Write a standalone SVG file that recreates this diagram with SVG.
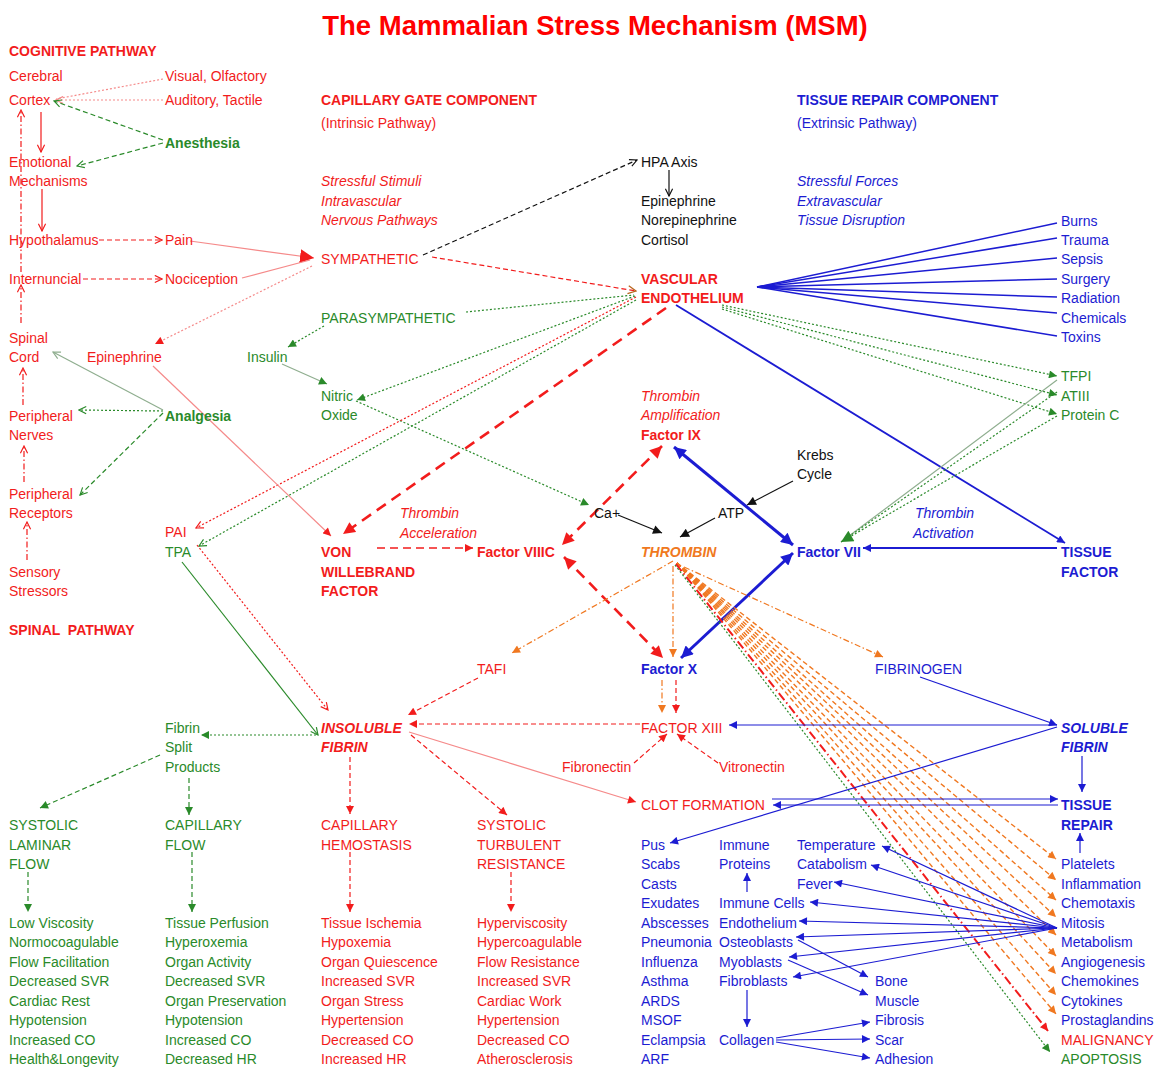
<svg xmlns="http://www.w3.org/2000/svg" width="1156" height="1067" viewBox="0 0 1156 1067">
<style>
text{font-family:"Liberation Sans",Arial,Helvetica,sans-serif;font-size:14px}
.b{font-weight:bold}
.i{font-style:italic}
.r{fill:#f21c1c}
.g{fill:#2a8a2a}
.u{fill:#1c1cd2}
.k{fill:#111}
.o{fill:#f07820}
#connectors path{fill:none;stroke-width:1.2}
.cr{stroke:#f21c1c}
.cp{stroke:#f58a8a}
.cg{stroke:#2a8a2a}
.cgl{stroke:#8fae8f}
.cu{stroke:#1c1cd2}
.ck{stroke:#111}
.co{stroke:#f07820}
.dot{stroke-dasharray:2,2}
.dsh{stroke-dasharray:5,3}
.dd{stroke-dasharray:6,2.5,1.5,2.5}
#connectors .big{stroke-width:2.6;stroke-dasharray:11,7}
#connectors .thick{stroke-width:3}
#connectors .w2{stroke-width:1.8}
#connectors .w16{stroke-width:1.5}
#connectors .fan{stroke-width:1.4;stroke-dasharray:5,3}
#connectors .mal{stroke-width:2;stroke-dasharray:9,3,1.5,3}
</style>
<defs>
<marker id="fr" viewBox="0 0 10 10" refX="10" refY="5" markerWidth="9" markerHeight="8" markerUnits="userSpaceOnUse" orient="auto-start-reverse"><path d="M0,0 L10,5 L0,10 z" fill="#f21c1c"/></marker>
<marker id="frB" viewBox="0 0 10 10" refX="10" refY="5" markerWidth="13" markerHeight="12" markerUnits="userSpaceOnUse" orient="auto-start-reverse"><path d="M0,0 L10,5 L0,10 z" fill="#f21c1c"/></marker>
<marker id="frL" viewBox="0 0 10 10" refX="10" refY="5" markerWidth="14" markerHeight="15" markerUnits="userSpaceOnUse" orient="auto"><path d="M0,0 L10,5 L0,10 z" fill="#f21c1c"/></marker>
<marker id="fg" viewBox="0 0 10 10" refX="10" refY="5" markerWidth="9" markerHeight="8" markerUnits="userSpaceOnUse" orient="auto"><path d="M0,0 L10,5 L0,10 z" fill="#2a8a2a"/></marker>
<marker id="fgB" viewBox="0 0 10 10" refX="10" refY="5" markerWidth="13" markerHeight="12" markerUnits="userSpaceOnUse" orient="auto"><path d="M0,0 L10,5 L0,10 z" fill="#2a8a2a"/></marker>
<marker id="fu" viewBox="0 0 10 10" refX="10" refY="5" markerWidth="10" markerHeight="8" markerUnits="userSpaceOnUse" orient="auto-start-reverse"><path d="M0,0 L10,5 L0,10 z" fill="#1c1cd2"/></marker>
<marker id="fuB" viewBox="0 0 10 10" refX="10" refY="5" markerWidth="13" markerHeight="12" markerUnits="userSpaceOnUse" orient="auto-start-reverse"><path d="M0,0 L10,5 L0,10 z" fill="#1c1cd2"/></marker>
<marker id="fk" viewBox="0 0 10 10" refX="10" refY="5" markerWidth="10" markerHeight="9" markerUnits="userSpaceOnUse" orient="auto"><path d="M0,0 L10,5 L0,10 z" fill="#111"/></marker>
<marker id="fo" viewBox="0 0 10 10" refX="10" refY="5" markerWidth="9" markerHeight="8" markerUnits="userSpaceOnUse" orient="auto"><path d="M0,0 L10,5 L0,10 z" fill="#f07820"/></marker>
<marker id="or" viewBox="0 0 10 10" refX="9" refY="5" markerWidth="9" markerHeight="9" markerUnits="userSpaceOnUse" orient="auto"><path d="M1,1 L9,5 L1,9" fill="none" stroke="#f21c1c" stroke-width="1.3"/></marker>
<marker id="op" viewBox="0 0 10 10" refX="9" refY="5" markerWidth="9" markerHeight="9" markerUnits="userSpaceOnUse" orient="auto"><path d="M1,1 L9,5 L1,9" fill="none" stroke="#f58a8a" stroke-width="1.3"/></marker>
<marker id="og" viewBox="0 0 10 10" refX="9" refY="5" markerWidth="9" markerHeight="9" markerUnits="userSpaceOnUse" orient="auto"><path d="M1,1 L9,5 L1,9" fill="none" stroke="#2a8a2a" stroke-width="1.3"/></marker>
<marker id="ogl" viewBox="0 0 10 10" refX="9" refY="5" markerWidth="9" markerHeight="9" markerUnits="userSpaceOnUse" orient="auto"><path d="M1,1 L9,5 L1,9" fill="none" stroke="#8fae8f" stroke-width="1.3"/></marker>
<marker id="ok" viewBox="0 0 10 10" refX="9" refY="5" markerWidth="9" markerHeight="9" markerUnits="userSpaceOnUse" orient="auto"><path d="M1,1 L9,5 L1,9" fill="none" stroke="#111" stroke-width="1.3"/></marker>
<marker id="oo" viewBox="0 0 10 10" refX="9" refY="5" markerWidth="10" markerHeight="10" markerUnits="userSpaceOnUse" orient="auto"><path d="M1,1 L9,5 L1,9" fill="none" stroke="#b8641c" stroke-width="1.3"/></marker>
</defs>
<rect width="1156" height="1067" fill="#fff"/>
<text id="title" x="595" y="35" text-anchor="middle" class="b" style="font-size:27.5px;fill:#ff0000">The Mammalian Stress Mechanism (MSM)</text>

<g id="connectors">
<!-- cognitive pathway -->
<path class="cp dot" d="M163,79 L56,99"/>
<path class="cp dot" d="M163,100 L56,100" marker-end="url(#op)"/>
<path class="cg dsh" d="M163,140 L54,101" marker-end="url(#og)"/>
<path class="cg dsh" d="M163,143 L77,166" marker-end="url(#og)"/>
<path class="cr" d="M41,112 L41,152" marker-end="url(#or)"/>
<path class="cr" d="M42,189 L42,231" marker-end="url(#or)"/>
<path class="cr dsh" d="M99,240 L162,240" marker-end="url(#or)"/>
<path class="cr dsh" d="M83,279 L162,279" marker-end="url(#or)"/>
<path class="cr dd" d="M21,272 L21,110" marker-end="url(#or)"/>
<path class="cr dd" d="M21,323 L21,285" marker-end="url(#or)"/>
<path class="cr dd" d="M23,405 L23,368" marker-end="url(#or)"/>
<path class="cr dd" d="M24,482 L24,446" marker-end="url(#or)"/>
<path class="cr dd" d="M27,560 L27,522" marker-end="url(#or)"/>
<path class="cgl" d="M163,410 L53,352" marker-end="url(#ogl)"/>
<path class="cg dot" d="M163,411 L79,410" marker-end="url(#og)"/>
<path class="cg dsh" d="M163,413 L80,495" marker-end="url(#og)"/>
<!-- sympathetic -->
<path class="cp" d="M190,241 L314,258" marker-end="url(#frL)"/>
<path class="cp" d="M242,278 L310,260"/>
<path class="cp dot" d="M312,266 L155,344" marker-end="url(#fr)"/>
<path class="ck dsh" d="M423,255 L637,160" marker-end="url(#ok)"/>
<path class="ck" d="M669,170 L669,196" marker-end="url(#ok)"/>
<path class="cr dsh" d="M432,257 L636,291" marker-end="url(#oo)"/>
<path class="cg dot" d="M466,312 L634,295"/>
<path class="cg dot" d="M324,326 L288,347" marker-end="url(#fg)"/>
<path class="cgl" d="M282,364 L327,384" marker-end="url(#fg)"/>
<path class="cg dot" d="M635,296 L357,400" marker-end="url(#fg)"/>
<path class="cg dot" d="M356,401 L589,505" marker-end="url(#fg)"/>
<path class="cr dot" d="M636,297 L196,528" marker-end="url(#or)"/>
<path class="cg dot" d="M636,300 L199,546" marker-end="url(#og)"/>
<path class="cr big" d="M666,308 L343,534" marker-end="url(#frB)"/>
<path class="cp" d="M153,366 L331,536" marker-end="url(#fr)"/>
<path class="cr w16" d="M377,548 L473,548" style="stroke-dasharray:8,5" marker-end="url(#fr)"/>
<path class="cr big" d="M662,446 L562,545" marker-start="url(#frB)" marker-end="url(#frB)"/>
<path class="cr big" d="M564,557 L663,658" marker-start="url(#frB)" marker-end="url(#frB)"/>
<path class="cu thick" d="M674,447 L793,545" marker-start="url(#fuB)" marker-end="url(#fuB)"/>
<path class="cu thick" d="M793,553 L681,658" marker-start="url(#fuB)" marker-end="url(#fuB)"/>
<path class="ck" d="M793,481 L747,505" marker-end="url(#fk)"/>
<path class="ck" d="M618,515 L662,533" marker-end="url(#fk)"/>
<path class="ck" d="M715,518 L680,537" marker-end="url(#fk)"/>
<!-- tissue repair component -->
<path class="cu w2" d="M676,305 L1065,543" marker-end="url(#fu)"/>
<path class="cu w2" d="M1057,548 L863,548" marker-end="url(#fu)"/>
<path class="cu w16" d="M757,287 L1057,223"/>
<path class="cu w16" d="M757,287 L1057,238"/>
<path class="cu w16" d="M757,287 L1057,258"/>
<path class="cu w16" d="M757,287 L1057,279"/>
<path class="cu w16" d="M757,287 L1057,297"/>
<path class="cu w16" d="M757,287 L1057,313"/>
<path class="cu w16" d="M757,287 L1057,336"/>
<path class="cg dot" d="M722,305 L1057,376" marker-end="url(#fg)"/>
<path class="cg dot" d="M722,307 L1057,395" marker-end="url(#fg)"/>
<path class="cg dot" d="M722,309 L1057,414" marker-end="url(#fg)"/>
<path class="cgl" d="M1057,380 L841,542"/>
<path class="cg dot" d="M1057,392 L841,542"/>
<path class="cg dot" d="M1057,416 L841,542" marker-end="url(#fgB)"/>
<!-- thrombin -->
<path class="co dd" d="M673,561 L512,653" marker-end="url(#fo)"/>
<path class="co dd" d="M673,566 L673,657" marker-end="url(#fo)"/>
<path class="co dd" d="M684,567 L883,657" marker-end="url(#fo)"/>
<path class="co fan" d="M677,563 L1056,859" marker-end="url(#fo)"/>
<path class="co fan" d="M677,563 L1056,880" marker-end="url(#fo)"/>
<path class="co fan" d="M677,563 L1056,900" marker-end="url(#fo)"/>
<path class="co fan" d="M677,563 L1056,917" marker-end="url(#fo)"/>
<path class="co fan" d="M677,563 L1056,935" marker-end="url(#fo)"/>
<path class="co fan" d="M677,563 L1056,956" marker-end="url(#fo)"/>
<path class="co fan" d="M677,563 L1056,974" marker-end="url(#fo)"/>
<path class="co fan" d="M677,563 L1056,995" marker-end="url(#fo)"/>
<path class="co fan" d="M677,563 L1056,1014" marker-end="url(#fo)"/>
<path class="cr mal" d="M676,564 L1048,1031" marker-end="url(#fr)"/>
<path class="cg dot" d="M675,565 L1050,1052" marker-end="url(#fg)"/>
<path class="co dd" d="M662,680 L662,713" marker-end="url(#fo)"/>
<path class="cr dsh" d="M676,680 L676,713" marker-end="url(#fr)"/>
<path class="cr dsh" d="M634,763 L667,734" marker-end="url(#fr)"/>
<path class="cr dsh" d="M718,763 L677,734" marker-end="url(#fr)"/>
<path class="cr dsh" d="M640,724 L409,724" marker-end="url(#fr)"/>
<path class="cr dsh" d="M478,678 L408,715" marker-end="url(#fr)"/>
<!-- fibrin / repair -->
<path class="cu" d="M1057,725 L729,725" marker-end="url(#fu)"/>
<path class="cu" d="M920,677 L1057,725" marker-end="url(#fu)"/>
<path class="cu" d="M1057,727 L670,843" marker-end="url(#fu)"/>
<path class="cu" d="M772,799 L1058,799" marker-end="url(#fu)"/>
<path class="cu" d="M1058,805 L773,805" marker-end="url(#fu)"/>
<path class="cu" d="M1082,756 L1082,792" marker-end="url(#fu)"/>
<path class="cu" d="M1080,853 L1080,833" marker-end="url(#fu)"/>
<path class="cu" d="M1057,928 L882,846" marker-end="url(#fu)"/>
<path class="cu" d="M1057,928 L871,865" marker-end="url(#fu)"/>
<path class="cu" d="M1057,928 L834,882" marker-end="url(#fu)"/>
<path class="cu" d="M1057,928 L810,902" marker-end="url(#fu)"/>
<path class="cu" d="M1057,928 L799,921" marker-end="url(#fu)"/>
<path class="cu" d="M1057,928 L796,937" marker-end="url(#fu)"/>
<path class="cu" d="M1057,928 L789,957" marker-end="url(#fu)"/>
<path class="cu" d="M1057,928 L793,977" marker-end="url(#fu)"/>
<path class="cu" d="M798,940 L868,977" marker-end="url(#fu)"/>
<path class="cu" d="M788,960 L868,995" marker-end="url(#fu)"/>
<path class="cu" d="M776,1038 L870,1022" marker-end="url(#fu)"/>
<path class="cu" d="M776,1040 L870,1039" marker-end="url(#fu)"/>
<path class="cu" d="M776,1042 L870,1058" marker-end="url(#fu)"/>
<path class="cu" d="M747,892 L747,873" marker-end="url(#fu)"/>
<path class="cu" d="M747,990 L747,1027" marker-end="url(#fu)"/>
<!-- lower left -->
<path class="cr dot" d="M197,545 L328,710" marker-end="url(#or)"/>
<path class="cg" d="M182,562 L318,735" marker-end="url(#og)"/>
<path class="cg dot" d="M316,735 L201,735" marker-end="url(#fg)"/>
<path class="cg dsh" d="M160,755 L40,808" marker-end="url(#fg)"/>
<path class="cg dsh" d="M189,778 L189,815" marker-end="url(#fg)"/>
<path class="cr dsh" d="M350,757 L350,814" marker-end="url(#fr)"/>
<path class="cr dsh" d="M411,735 L507,815" marker-end="url(#fr)"/>
<path class="cp" d="M409,732 L636,802" marker-end="url(#fr)"/>
<path class="cg dsh" d="M28,872 L28,912" marker-end="url(#fg)"/>
<path class="cg dsh" d="M192,852 L192,912" marker-end="url(#fg)"/>
<path class="cr dsh" d="M350,852 L350,912" marker-end="url(#fr)"/>
<path class="cr dsh" d="M511,872 L511,912" marker-end="url(#fr)"/>
</g>

<!-- LEFT: cognitive / spinal -->
<g id="cognitive-pathway"><text x="9" y="56" class="b r">COGNITIVE PATHWAY</text></g>
<g id="cerebral-cortex"><text x="9" y="81" class="r">Cerebral</text><text x="9" y="105" class="r">Cortex</text></g>
<g id="visual"><text x="165" y="81" class="r">Visual, Olfactory</text></g>
<g id="auditory"><text x="165" y="105" class="r">Auditory, Tactile</text></g>
<g id="anesthesia"><text x="165" y="148" class="b g">Anesthesia</text></g>
<g id="emotional"><text x="9" y="167" class="r">Emotional</text><text x="9" y="186" class="r">Mechanisms</text></g>
<g id="hypothalamus"><text x="9" y="245" class="r">Hypothalamus</text></g>
<g id="pain"><text x="165" y="245" class="r">Pain</text></g>
<g id="internuncial"><text x="9" y="284" class="r">Internuncial</text></g>
<g id="nociception"><text x="165" y="284" class="r">Nociception</text></g>
<g id="spinal-cord"><text x="9" y="343" class="r">Spinal</text><text x="9" y="362" class="r">Cord</text></g>
<g id="epinephrine-l"><text x="87" y="362" class="r">Epinephrine</text></g>
<g id="peripheral-nerves"><text x="9" y="421" class="r">Peripheral</text><text x="9" y="440" class="r">Nerves</text></g>
<g id="analgesia"><text x="165" y="421" class="b g">Analgesia</text></g>
<g id="peripheral-receptors"><text x="9" y="499" class="r">Peripheral</text><text x="9" y="518" class="r">Receptors</text></g>
<g id="sensory"><text x="9" y="577" class="r">Sensory</text><text x="9" y="596" class="r">Stressors</text></g>
<g id="spinal-pathway"><text x="9" y="635" class="b r" xml:space="preserve">SPINAL  PATHWAY</text></g>

<!-- MIDDLE -->
<g id="capillary-gate"><text x="321" y="105" class="b r">CAPILLARY GATE COMPONENT</text><text x="321" y="128" class="r">(Intrinsic Pathway)</text></g>
<g id="stressful-stimuli"><text x="321" y="186" class="i r">Stressful Stimuli</text><text x="321" y="206" class="i r">Intravascular</text><text x="321" y="225" class="i r">Nervous Pathways</text></g>
<g id="sympathetic"><text x="321" y="264" class="r">SYMPATHETIC</text></g>
<g id="parasympathetic"><text x="321" y="323" class="g">PARASYMPATHETIC</text></g>
<g id="insulin"><text x="247" y="362" class="g">Insulin</text></g>
<g id="nitric-oxide"><text x="321" y="401" class="g">Nitric</text><text x="321" y="420" class="g">Oxide</text></g>
<g id="pai"><text x="165" y="537" class="r">PAI</text></g>
<g id="tpa"><text x="165" y="557" class="g">TPA</text></g>
<g id="von-willebrand"><text x="321" y="557" class="b r">VON</text><text x="321" y="577" class="b r">WILLEBRAND</text><text x="321" y="596" class="b r">FACTOR</text></g>
<g id="thrombin-acceleration"><text x="400" y="518" class="i r">Thrombin</text><text x="400" y="538" class="i r">Acceleration</text></g>
<g id="factor-viiic"><text x="477" y="557" class="b r">Factor VIIIC</text></g>
<g id="hpa-axis"><text x="641" y="167" class="k">HPA Axis</text></g>
<g id="hormones"><text x="641" y="206" class="k">Epinephrine</text><text x="641" y="225" class="k">Norepinephrine</text><text x="641" y="245" class="k">Cortisol</text></g>
<g id="vascular-endothelium"><text x="641" y="284" class="b r">VASCULAR</text><text x="641" y="303" class="b r">ENDOTHELIUM</text></g>
<g id="factor-ix"><text x="641" y="401" class="i r">Thrombin</text><text x="641" y="420" class="i r">Amplification</text><text x="641" y="440" class="b r">Factor IX</text></g>
<g id="krebs"><text x="797" y="460" class="k">Krebs</text><text x="797" y="479" class="k">Cycle</text></g>
<g id="ca"><text x="594" y="518" class="k">Ca+</text></g>
<g id="atp"><text x="718" y="518" class="k">ATP</text></g>
<g id="thrombin"><text x="641" y="557" class="b i o">THROMBIN</text></g>
<g id="factor-vii"><text x="797" y="557" class="b u">Factor VII</text></g>
<g id="thrombin-activation"><text x="915" y="518" class="i u">Thrombin</text><text x="913" y="538" class="i u">Activation</text></g>
<g id="tissue-factor"><text x="1061" y="557" class="b u">TISSUE</text><text x="1061" y="577" class="b u">FACTOR</text></g>

<!-- RIGHT TOP -->
<g id="tissue-repair-component"><text x="797" y="105" class="b u">TISSUE REPAIR COMPONENT</text><text x="797" y="128" class="u">(Extrinsic Pathway)</text></g>
<g id="stressful-forces"><text x="797" y="186" class="i u">Stressful Forces</text><text x="797" y="206" class="i u">Extravascular</text><text x="797" y="225" class="i u">Tissue Disruption</text></g>
<g id="burns"><text x="1061" y="226" class="u">Burns</text></g>
<g id="trauma"><text x="1061" y="245" class="u">Trauma</text></g>
<g id="sepsis"><text x="1061" y="264" class="u">Sepsis</text></g>
<g id="surgery"><text x="1061" y="284" class="u">Surgery</text></g>
<g id="radiation"><text x="1061" y="303" class="u">Radiation</text></g>
<g id="chemicals"><text x="1061" y="323" class="u">Chemicals</text></g>
<g id="toxins"><text x="1061" y="342" class="u">Toxins</text></g>
<g id="tfpi"><text x="1061" y="381" class="g">TFPI</text></g>
<g id="atiii"><text x="1061" y="401" class="g">ATIII</text></g>
<g id="protein-c"><text x="1061" y="420" class="g">Protein C</text></g>

<!-- CENTER LOWER -->
<g id="tafi"><text x="477" y="674" class="r">TAFI</text></g>
<g id="factor-x"><text x="641" y="674" class="b u">Factor X</text></g>
<g id="fibrinogen"><text x="875" y="674" class="u">FIBRINOGEN</text></g>
<g id="fibrin-split"><text x="165" y="733" class="g">Fibrin</text><text x="165" y="752" class="g">Split</text><text x="165" y="772" class="g">Products</text></g>
<g id="insoluble-fibrin"><text x="321" y="733" class="b i r">INSOLUBLE</text><text x="321" y="752" class="b i r">FIBRIN</text></g>
<g id="factor-xiii"><text x="641" y="733" class="r">FACTOR XIII</text></g>
<g id="soluble-fibrin"><text x="1061" y="733" class="b i u">SOLUBLE</text><text x="1061" y="752" class="b i u">FIBRIN</text></g>
<g id="fibronectin"><text x="562" y="772" class="r">Fibronectin</text></g>
<g id="vitronectin"><text x="719" y="772" class="r">Vitronectin</text></g>
<g id="clot-formation"><text x="641" y="810" class="r">CLOT FORMATION</text></g>
<g id="tissue-repair"><text x="1061" y="810" class="b u">TISSUE</text><text x="1061" y="830" class="b u">REPAIR</text></g>

<!-- BOTTOM COLUMNS -->
<g id="systolic-laminar"><text x="9" y="830" class="g">SYSTOLIC</text><text x="9" y="850" class="g">LAMINAR</text><text x="9" y="869" class="g">FLOW</text></g>
<g id="capillary-flow"><text x="165" y="830" class="g">CAPILLARY</text><text x="165" y="850" class="g">FLOW</text></g>
<g id="capillary-hemostasis"><text x="321" y="830" class="r">CAPILLARY</text><text x="321" y="850" class="r">HEMOSTASIS</text></g>
<g id="systolic-turbulent"><text x="477" y="830" class="r">SYSTOLIC</text><text x="477" y="850" class="r">TURBULENT</text><text x="477" y="869" class="r">RESISTANCE</text></g>
<g id="laminar-effects" class="g">
<text x="9" y="928" class="g">Low Viscosity</text><text x="9" y="947" class="g">Normocoagulable</text><text x="9" y="967" class="g">Flow Facilitation</text><text x="9" y="986" class="g">Decreased SVR</text><text x="9" y="1006" class="g">Cardiac Rest</text><text x="9" y="1025" class="g">Hypotension</text><text x="9" y="1045" class="g">Increased CO</text><text x="9" y="1064" class="g">Health&amp;Longevity</text>
</g>
<g id="capillary-flow-effects">
<text x="165" y="928" class="g">Tissue Perfusion</text><text x="165" y="947" class="g">Hyperoxemia</text><text x="165" y="967" class="g">Organ Activity</text><text x="165" y="986" class="g">Decreased SVR</text><text x="165" y="1006" class="g">Organ Preservation</text><text x="165" y="1025" class="g">Hypotension</text><text x="165" y="1045" class="g">Increased CO</text><text x="165" y="1064" class="g">Decreased HR</text>
</g>
<g id="hemostasis-effects">
<text x="321" y="928" class="r">Tissue Ischemia</text><text x="321" y="947" class="r">Hypoxemia</text><text x="321" y="967" class="r">Organ Quiescence</text><text x="321" y="986" class="r">Increased SVR</text><text x="321" y="1006" class="r">Organ Stress</text><text x="321" y="1025" class="r">Hypertension</text><text x="321" y="1045" class="r">Decreased CO</text><text x="321" y="1064" class="r">Increased HR</text>
</g>
<g id="turbulent-effects">
<text x="477" y="928" class="r">Hyperviscosity</text><text x="477" y="947" class="r">Hypercoagulable</text><text x="477" y="967" class="r">Flow Resistance</text><text x="477" y="986" class="r">Increased SVR</text><text x="477" y="1006" class="r">Cardiac Work</text><text x="477" y="1025" class="r">Hypertension</text><text x="477" y="1045" class="r">Decreased CO</text><text x="477" y="1064" class="r">Atherosclerosis</text>
</g>

<!-- BOTTOM RIGHT -->
<g id="conditions">
<text x="641" y="850" class="u">Pus</text><text x="641" y="869" class="u">Scabs</text><text x="641" y="889" class="u">Casts</text><text x="641" y="908" class="u">Exudates</text><text x="641" y="928" class="u">Abscesses</text><text x="641" y="947" class="u">Pneumonia</text><text x="641" y="967" class="u">Influenza</text><text x="641" y="986" class="u">Asthma</text><text x="641" y="1006" class="u">ARDS</text><text x="641" y="1025" class="u">MSOF</text><text x="641" y="1045" class="u">Eclampsia</text><text x="641" y="1064" class="u">ARF</text>
</g>
<g id="immune-proteins"><text x="719" y="850" class="u">Immune</text><text x="719" y="869" class="u">Proteins</text></g>
<g id="immune-cells"><text x="719" y="908" class="u">Immune Cells</text></g>
<g id="endothelium"><text x="719" y="928" class="u">Endothelium</text></g>
<g id="osteoblasts"><text x="719" y="947" class="u">Osteoblasts</text></g>
<g id="myoblasts"><text x="719" y="967" class="u">Myoblasts</text></g>
<g id="fibroblasts"><text x="719" y="986" class="u">Fibroblasts</text></g>
<g id="collagen"><text x="719" y="1045" class="u">Collagen</text></g>
<g id="temperature"><text x="797" y="850" class="u">Temperature</text></g>
<g id="catabolism"><text x="797" y="869" class="u">Catabolism</text></g>
<g id="fever"><text x="797" y="889" class="u">Fever</text></g>
<g id="bone"><text x="875" y="986" class="u">Bone</text></g>
<g id="muscle"><text x="875" y="1006" class="u">Muscle</text></g>
<g id="fibrosis"><text x="875" y="1025" class="u">Fibrosis</text></g>
<g id="scar"><text x="875" y="1045" class="u">Scar</text></g>
<g id="adhesion"><text x="875" y="1064" class="u">Adhesion</text></g>
<g id="platelets"><text x="1061" y="869" class="u">Platelets</text></g>
<g id="inflammation"><text x="1061" y="889" class="u">Inflammation</text></g>
<g id="chemotaxis"><text x="1061" y="908" class="u">Chemotaxis</text></g>
<g id="mitosis"><text x="1061" y="928" class="u">Mitosis</text></g>
<g id="metabolism"><text x="1061" y="947" class="u">Metabolism</text></g>
<g id="angiogenesis"><text x="1061" y="967" class="u">Angiogenesis</text></g>
<g id="chemokines"><text x="1061" y="986" class="u">Chemokines</text></g>
<g id="cytokines"><text x="1061" y="1006" class="u">Cytokines</text></g>
<g id="prostaglandins"><text x="1061" y="1025" class="u">Prostaglandins</text></g>
<g id="malignancy"><text x="1061" y="1045" class="r">MALIGNANCY</text></g>
<g id="apoptosis"><text x="1061" y="1064" class="g">APOPTOSIS</text></g>
</svg>
